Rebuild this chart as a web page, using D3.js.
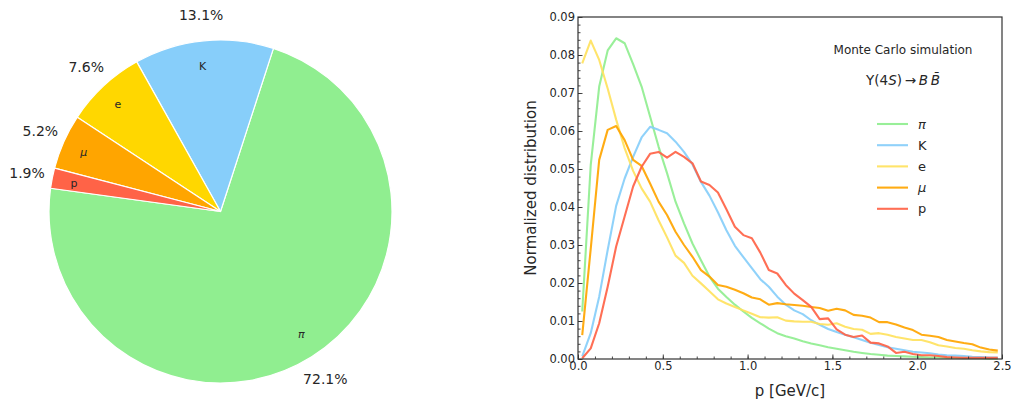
<!DOCTYPE html>
<html>
<head>
<meta charset="utf-8">
<script src="https://cdn.jsdelivr.net/npm/d3@7"></script>
<style>
  body { margin: 0; background: #fff; }
  svg { display: block; }
  text { font-family: "DejaVu Sans", sans-serif; fill: #262626; }
</style>
</head>
<body>
<svg id="chart" width="1013" height="401"></svg>
<script>
// Particle species produced in Y(4S) -> B Bbar decays
const species    = ["π", "K", "e", "μ", "p"];
const italicSym  = [true, false, false, true, false];
const colors     = ["#90EE90", "#87CEFA", "#FFD700", "#FFA500", "#FF6347"];
const lineColors = ["#90EE90", "#87CEFA", "#FFE25E", "#FFA500", "#FF6347"];

// Share of each species (percent)
const fractions = [72.1, 13.1, 7.6, 5.2, 1.9];

// Momentum bin centres (GeV/c), 0.05 GeV/c wide bins
const momentum = [0.025,0.075,0.125,0.175,0.225,0.275,0.325,0.375,0.425,0.475,
  0.525,0.575,0.625,0.675,0.725,0.775,0.825,0.875,0.925,0.975,
  1.025,1.075,1.125,1.175,1.225,1.275,1.325,1.375,1.425,1.475,
  1.525,1.575,1.625,1.675,1.725,1.775,1.825,1.875,1.925,1.975,
  2.025,2.075,2.125,2.175,2.225,2.275,2.325,2.375,2.425,2.475];

// Normalized momentum distributions
const distPi = [0.0125,0.0510,0.0717,0.0812,0.0844,0.0831,0.0776,0.0717,0.0638,0.0559,
  0.0489,0.0414,0.0357,0.0304,0.0260,0.0217,0.0185,0.0163,0.0143,0.0125,
  0.0108,0.0094,0.0080,0.0068,0.0060,0.0054,0.0047,0.0041,0.0036,0.0031,
  0.0027,0.0023,0.0019,0.0016,0.0013,0.0011,0.0009,0.0008,0.0007,0.0006,
  0.0005,0.0004,0.0004,0.0003,0.0003,0.0002,0.0002,0.0002,0.0001,0.0001];
const distK = [0.0007,0.0068,0.0164,0.0287,0.0403,0.0475,0.0532,0.0583,0.0611,0.0603,
  0.0594,0.0572,0.0545,0.0512,0.0466,0.0430,0.0386,0.0339,0.0298,0.0268,
  0.0239,0.0210,0.0190,0.0164,0.0143,0.0128,0.0118,0.0102,0.0090,0.0079,
  0.0071,0.0064,0.0057,0.0050,0.0043,0.0037,0.0031,0.0027,0.0023,0.0019,
  0.0017,0.0015,0.0012,0.0010,0.0009,0.0008,0.0006,0.0005,0.0004,0.0004];
const distE = [0.0778,0.0838,0.0787,0.0712,0.0630,0.0555,0.0495,0.0449,0.0414,0.0365,
  0.0320,0.0272,0.0253,0.0219,0.0199,0.0178,0.0157,0.0146,0.0137,0.0128,
  0.0119,0.0110,0.0109,0.0110,0.0101,0.0099,0.0098,0.0098,0.0092,0.0090,
  0.0094,0.0085,0.0079,0.0077,0.0066,0.0068,0.0064,0.0058,0.0054,0.0050,
  0.0050,0.0044,0.0036,0.0033,0.0029,0.0027,0.0023,0.0020,0.0018,0.0017];
const distMu = [0.0063,0.0290,0.0524,0.0603,0.0613,0.0576,0.0524,0.0508,0.0462,0.0414,
  0.0379,0.0335,0.0300,0.0269,0.0234,0.0217,0.0195,0.0190,0.0182,0.0173,
  0.0162,0.0157,0.0143,0.0147,0.0144,0.0142,0.0140,0.0137,0.0134,0.0127,
  0.0132,0.0128,0.0116,0.0114,0.0109,0.0097,0.0097,0.0091,0.0083,0.0076,
  0.0064,0.0061,0.0058,0.0050,0.0046,0.0042,0.0039,0.0030,0.0025,0.0022];
const distP = [0.0002,0.0028,0.0094,0.0190,0.0296,0.0375,0.0454,0.0506,0.0540,0.0545,
  0.0530,0.0545,0.0532,0.0515,0.0467,0.0458,0.0438,0.0394,0.0348,0.0326,
  0.0318,0.0280,0.0234,0.0225,0.0195,0.0172,0.0155,0.0137,0.0105,0.0107,
  0.0078,0.0064,0.0058,0.0062,0.0043,0.0041,0.0033,0.0016,0.0019,0.0013,
  0.0010,0.0010,0.0008,0.0005,0.0004,0.0003,0.0003,0.0003,0.0003,0.0003];
const distributions = [distPi, distK, distE, distMu, distP];

// Axis ticks
const xTicks = [0.0, 0.5, 1.0, 1.5, 2.0, 2.5];
const yTicks = [0.00, 0.01, 0.02, 0.03, 0.04, 0.05, 0.06, 0.07, 0.08, 0.09];

const svg = d3.select("#chart");

// ---------- Pie chart ----------
const cx = 220.5, cy = 211.5, R = 171.5;
const start = (90 - 172.2) * Math.PI / 180;   // counter-clockwise from just above 9 o'clock
const pie = d3.pie().sort(null).value(d => d)
  .startAngle(start).endAngle(start - 2 * Math.PI);
const arcs = pie(fractions);
const arc = d3.arc().innerRadius(0).outerRadius(R);

const gPie = svg.append("g").attr("transform", `translate(${cx},${cy})`);
gPie.selectAll("path.wedge").data(arcs).join("path")
  .attr("class", "wedge")
  .attr("d", arc)
  .attr("fill", (d, i) => colors[i])
  .attr("stroke", "#fff")
  .attr("stroke-width", 1.2)
  .attr("stroke-linejoin", "round");

function polar(a, rho) { return [rho * Math.sin(a), -rho * Math.cos(a)]; }

// species names inside the wedges
gPie.selectAll("text.name").data(arcs).join("text")
  .attr("class", "name")
  .each(function (d, i) {
    const m = (d.startAngle + d.endAngle) / 2;
    const [px, py] = polar(m, 0.85 * R);
    d3.select(this)
      .attr("x", px).attr("y", py)
      .attr("text-anchor", px > 0 ? "start" : "end")
      .attr("dominant-baseline", "central")
      .style("font-size", "11px")
      .style("font-style", italicSym[i] ? "italic" : "normal")
      .text(species[i]);
  });

// percentages outside the wedges
gPie.selectAll("text.pct").data(arcs).join("text")
  .attr("class", "pct")
  .each(function (d, i) {
    const m = (d.startAngle + d.endAngle) / 2;
    const [px, py] = polar(m, 1.15 * R);
    d3.select(this)
      .attr("x", px).attr("y", py)
      .attr("text-anchor", "middle")
      .attr("dominant-baseline", "central")
      .style("font-size", "14px")
      .text(fractions[i].toFixed(1) + "%");
  });

// ---------- Momentum distributions ----------
const plotL = 578, plotR = 1002, plotT = 17, plotB = 359;
const x = d3.scaleLinear().domain([0, 2.5]).range([plotL, plotR]);
const y = d3.scaleLinear().domain([0, 0.09]).range([plotB, plotT]);

const gPlot = svg.append("g");

const line = d3.line().x((d, i) => x(momentum[i])).y(d => y(d));
gPlot.selectAll("path.dist").data(distributions).join("path")
  .attr("class", "dist")
  .attr("d", d => line(d))
  .attr("fill", "none")
  .attr("stroke", (d, i) => lineColors[i])
  .attr("stroke-width", 2.1)
  .attr("stroke-linejoin", "round")
  .attr("opacity", 0.92);

// axes with inward ticks
const axisColor = "#333";
const xAxis = gPlot.append("g").attr("transform", `translate(0,${plotB})`)
  .call(d3.axisBottom(x).tickValues(xTicks).tickFormat(d3.format(".1f"))
    .tickSizeInner(-4.5).tickSizeOuter(0).tickPadding(3));
const xMinor = gPlot.append("g").attr("transform", `translate(0,${plotB})`)
  .call(d3.axisBottom(x).tickValues(d3.range(0, 2.51, 0.1)).tickFormat("")
    .tickSizeInner(-2.5).tickSizeOuter(0));
const yAxis = gPlot.append("g").attr("transform", `translate(${plotL},0)`)
  .call(d3.axisLeft(y).tickValues(yTicks).tickFormat(d3.format(".2f"))
    .tickSizeInner(-4.5).tickSizeOuter(0).tickPadding(3));
const yMinor = gPlot.append("g").attr("transform", `translate(${plotL},0)`)
  .call(d3.axisLeft(y).tickValues(d3.range(0, 0.0901, 0.002)).tickFormat("")
    .tickSizeInner(-2.5).tickSizeOuter(0));
[xAxis, xMinor, yAxis, yMinor].forEach(g => {
  g.select(".domain").remove();
  g.selectAll(".tick line").attr("stroke", axisColor).attr("stroke-width", 0.9);
  g.selectAll(".tick text").style("font-family", "DejaVu Sans").style("font-size", "11.5px").attr("fill", "#262626");
});

// frame
gPlot.append("rect")
  .attr("x", plotL).attr("y", plotT)
  .attr("width", plotR - plotL).attr("height", plotB - plotT)
  .attr("fill", "none").attr("stroke", axisColor).attr("stroke-width", 1.2);

// axis titles
gPlot.append("text")
  .attr("x", (plotL + plotR) / 2).attr("y", 391)
  .attr("text-anchor", "middle").attr("dominant-baseline", "central")
  .style("font-size", "15px").text("p [GeV/c]");
gPlot.append("text")
  .attr("transform", `translate(531,${(plotT + plotB) / 2}) rotate(-90)`)
  .attr("text-anchor", "middle").attr("dominant-baseline", "central")
  .style("font-size", "15px").text("Normalized distribution");

// annotation
gPlot.append("text")
  .attr("x", 903).attr("y", 50)
  .attr("text-anchor", "middle").attr("dominant-baseline", "central")
  .style("font-size", "12px").text("Monte Carlo simulation");
const formula = gPlot.append("text")
  .attr("x", 903).attr("y", 80)
  .attr("text-anchor", "middle").attr("dominant-baseline", "central")
  .style("font-size", "13.5px");
formula.append("tspan").text("Υ(4");
formula.append("tspan").style("font-style", "italic").text("S");
formula.append("tspan").text(")\u2009→\u2009");
formula.append("tspan").style("font-style", "italic").text("B\u2009B\u0304");

// legend
const legend = gPlot.append("g");
const legendY0 = 124, legendDy = 21.2;
species.forEach((s, i) => {
  const ly = legendY0 + i * legendDy;
  legend.append("line")
    .attr("x1", 877).attr("x2", 908).attr("y1", ly).attr("y2", ly)
    .attr("stroke", lineColors[i]).attr("stroke-width", 2.1).attr("opacity", 0.92);
  legend.append("text")
    .attr("x", 918).attr("y", ly)
    .attr("dominant-baseline", "central")
    .style("font-size", "13px")
    .style("font-style", italicSym[i] ? "italic" : "normal")
    .text(s);
});
</script>
</body>
</html>
